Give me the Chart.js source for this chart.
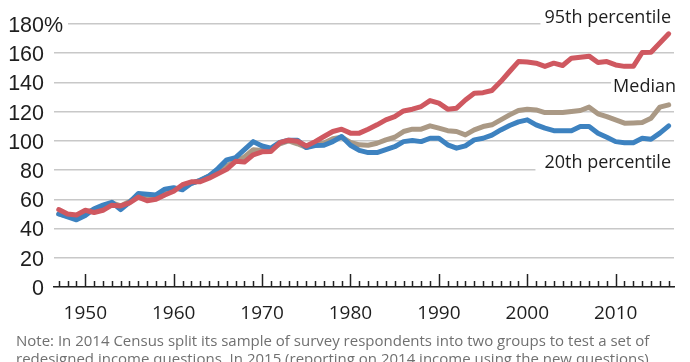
<!DOCTYPE html>
<html>
<head>
<meta charset="utf-8">
<script src="https://cdn.jsdelivr.net/npm/chart.js@4"></script>
<style>
body { margin: 0; background: #fff; }
#wrap { position: relative; width: 690px; height: 362px; overflow: hidden; }
#note { position: absolute; left: 16px; top: 331px; font: 15px "Open Sans", sans-serif; line-height: 18px; color: #707070; white-space: nowrap; }
</style>
</head>
<body>
<div id="wrap">
  <canvas id="chart" width="690" height="362"></canvas>
  <div id="note">Note: In 2014 Census split its sample of survey respondents into two groups to test a set of<br>redesigned income questions.  In 2015 (reporting on 2014 income using the new questions)</div>
</div>
<script>
var years = [1947, 1948, 1949, 1950, 1951, 1952, 1953, 1954, 1955, 1956,
    1957, 1958, 1959, 1960, 1961, 1962, 1963, 1964, 1965, 1966,
    1967, 1968, 1969, 1970, 1971, 1972, 1973, 1974, 1975, 1976,
    1977, 1978, 1979, 1980, 1981, 1982, 1983, 1984, 1985, 1986,
    1987, 1988, 1989, 1990, 1991, 1992, 1993, 1994, 1995, 1996,
    1997, 1998, 1999, 2000, 2001, 2002, 2003, 2004, 2005, 2006,
    2007, 2008, 2009, 2010, 2011, 2012, 2013, 2014, 2015, 2016];

var p95 = [53, 50, 49.3, 52.5, 51, 52.5, 56, 55.5, 57.5, 61.5,
    59, 60, 63, 65.5, 70, 72, 72, 74.5, 77.5, 80.5,
    86, 85.5, 90.5, 92.5, 92.7, 98.8, 100.5, 99.8, 96.5, 99.5,
    103, 106.4, 108, 105.3, 105.3, 108, 111, 114.4, 116.6, 120.5,
    121.7, 123.5, 127.6, 125.8, 121.7, 122.4, 128, 132.6, 133, 134.5,
    140.6, 147.5, 154.3, 154, 153.2, 151, 153.2, 151.6, 156.6, 157.3,
    158, 153.6, 154.3, 152, 151, 151, 160.5, 160.7, 167, 173.3];

var median = [50, 48.5, 48, 51, 53, 55, 57.5, 55.5, 58.5, 62.5,
    62, 62, 66, 67, 68, 71, 73, 76, 79, 83,
    86, 89, 94, 93.5, 93.5, 98, 100, 98, 95.5, 97.5,
    98.5, 101.5, 102.5, 99, 97.3, 97, 98.4, 100.7, 102.5, 106.4,
    108, 108, 110.3, 108.7, 107, 106.4, 104.1, 107.5, 109.8, 111,
    114.4, 117.8, 120.8, 121.7, 121.2, 119.4, 119.4, 119.4, 120.1, 120.8,
    123.1, 118.5, 116.6, 114.4, 112.1, 112.3, 112.6, 115.5, 123.1, 124.7];

var p20 = [50, 48, 46, 49, 53.5, 56, 58, 53, 58, 64,
    63.5, 63, 67, 68, 66.5, 71, 73, 76, 81, 87,
    88.5, 94, 99.5, 96.5, 95, 99, 100.5, 100.5, 95.5, 96.8,
    97, 99.5, 103, 97, 93.5, 92, 92, 94, 96, 99.5,
    100.2, 99.5, 101.8, 101.8, 97.3, 95, 96.6, 100.7, 101.8, 104,
    107.5, 110.5, 113, 114.4, 111, 108.7, 107, 107, 107, 109.8,
    109.8, 105.3, 102.5, 99.5, 98.8, 98.8, 101.8, 101.1, 105.3, 110.3];

var yTicks = [0, 20, 40, 60, 80, 100, 120, 140, 160, 180];

function points(values) {
    return values.map(function (v, i) { return { x: years[i], y: v }; });
}

// series names sit at the right, on white so the grid lines break behind them
var seriesLabels = [
    { text: '95th percentile', right: 671, base: 23, gap: 4 },
    { text: 'Median', right: 676, base: 92, gap: 2 },
    { text: '20th percentile', right: 671, base: 168, gap: 9 }
];
var labelFont = '18px "Open Sans", sans-serif';
var tickFont = '21.5px "Liberation Sans Narrow", "Liberation Sans", sans-serif';

var labelPlugin = {
    id: 'seriesLabels',
    beforeDatasetsDraw: function (chart) {
        var ctx = chart.ctx, a = chart.chartArea, y = chart.scales.y;
        ctx.save();
        ctx.fillStyle = '#fff';
        ctx.font = labelFont;
        seriesLabels.forEach(function (l) {
            var w = ctx.measureText(l.text).width;
            ctx.fillRect(l.right - w - l.gap, l.base - 18, w + l.gap + 20, 24);
        });
        // room for the % sign on the top tick
        var top = y.getPixelForValue(180);
        ctx.fillRect(a.left - 2, top - 3, 16, 6);
        ctx.restore();
    },
    afterDraw: function (chart) {
        var ctx = chart.ctx, a = chart.chartArea, x = chart.scales.x, y = chart.scales.y;
        ctx.save();
        ctx.fillStyle = '#1e1e1e';
        ctx.font = labelFont;
        ctx.textAlign = 'right';
        ctx.textBaseline = 'alphabetic';
        seriesLabels.forEach(function (l) {
            ctx.fillText(l.text, l.right, l.base);
        });
        ctx.font = tickFont;
        ctx.textAlign = 'left';
        ctx.textBaseline = 'middle';
        ctx.fillText('%', a.left - 10, y.getPixelForValue(180) + 2);

        // year ticks point up into the plot
        ctx.strokeStyle = '#222';
        ctx.lineWidth = 1.5;
        x.ticks.forEach(function (t) {
            var px = Math.round(x.getPixelForValue(t.value)) + 0.5;
            var len = t.value % 10 === 0 ? 13 : 6;
            ctx.beginPath();
            ctx.moveTo(px, a.bottom);
            ctx.lineTo(px, a.bottom - len);
            ctx.stroke();
        });
        ctx.restore();
    }
};

var ctx = document.getElementById('chart').getContext('2d');
var chart = new Chart(ctx, {
    type: 'line',
    data: {
        datasets: [
            { label: '95th percentile', data: points(p95), borderColor: '#cf5860', order: 1 },
            { label: '20th percentile', data: points(p20), borderColor: '#3d82c0', order: 2 },
            { label: 'Median', data: points(median), borderColor: '#aa9985', order: 3 }
        ]
    },
    options: {
        responsive: false,
        animation: false,
        devicePixelRatio: 1,
        layout: { padding: { top: 24, right: 16, left: 0, bottom: 0 } },
        elements: {
            line: { borderWidth: 5, tension: 0, borderJoinStyle: 'round', borderCapStyle: 'round' },
            point: { radius: 0 }
        },
        plugins: {
            legend: { display: false },
            tooltip: { enabled: false }
        },
        scales: {
            x: {
                type: 'linear',
                min: 1946.46,
                max: 2016.6,
                afterBuildTicks: function (s) {
                    s.ticks = years.map(function (v) { return { value: v }; });
                },
                afterFit: function (s) { s.height = 75; },
                grid: { display: false },
                border: { display: true, color: '#222', width: 1.5 },
                ticks: {
                    autoSkip: false,
                    maxRotation: 0,
                    padding: 7,
                    color: '#1e1e1e',
                    font: { family: '"Open Sans", sans-serif', size: 19 },
                    callback: function (v) { return v % 10 === 0 ? String(v) : ''; }
                }
            },
            y: {
                min: 0,
                max: 180,
                afterBuildTicks: function (s) {
                    s.ticks = yTicks.map(function (v) { return { value: v }; });
                },
                afterFit: function (s) { s.width = 54; },
                grid: { color: '#c8c8c8', lineWidth: 1.5, drawTicks: false },
                border: { display: false },
                ticks: {
                    padding: 10,
                    labelOffset: 2,
                    color: '#1e1e1e',
                    font: { family: '"Liberation Sans Narrow", "Liberation Sans", sans-serif', size: 21.5 },
                    callback: function (v) { return String(v); }
                }
            }
        }
    },
    plugins: [labelPlugin]
});
</script>
</body>
</html>
